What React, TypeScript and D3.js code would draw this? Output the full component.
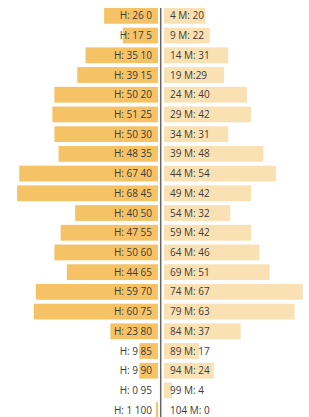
import React from 'react';
import * as d3 from 'd3';

// age group start, H (left) and M (right) counts
const ages = [0, 5, 10, 15, 20, 25, 30, 35, 40, 45, 50, 55, 60, 65, 70, 75, 80, 85, 90, 95, 100];
const hValues = [26, 17, 35, 39, 50, 51, 50, 48, 67, 68, 40, 47, 50, 44, 59, 60, 23, 9, 9, 0, 1];
const mValues = [20, 22, 31, 29, 40, 42, 31, 48, 54, 42, 32, 42, 46, 51, 67, 63, 37, 17, 24, 4, 0];
const leftLabels = ages.map((a, i) => `H: ${hValues[i]} ${a}`);
const rightLabels = ages.map((a, i) => (a === 15 ? `${a + 4} M:${mValues[i]}` : `${a + 4} M: ${mValues[i]}`));

const W = 309;
const H = 430;
const axisX = 160.7;

const App: React.FC = () => {
    const y = d3.scaleBand<number>()
        .domain(ages)
        .range([6, 420])
        .paddingInner(0.2)
        .paddingOuter(0.1);

    const x = d3.scaleLinear().domain([0, 70]).range([0, 145]);

    const leftEdge = 158;
    const rightEdge = 164;

    return (
        <div style={{ position: 'absolute', left: 0, top: 0 }}>
            <svg width={W} height={H} style={{ display: 'block' }}>
                <g fontFamily="'Open Sans', sans-serif" fontSize={10} fill="#3c3c3c">
                    {ages.map((a, i) => (
                        <g key={a}>
                            <rect
                                x={leftEdge - x(hValues[i])}
                                y={y(a)}
                                width={x(hValues[i])}
                                height={y.bandwidth()}
                                fill="#f5c366"
                            />
                            <rect
                                x={rightEdge}
                                y={y(a)}
                                width={x(mValues[i])}
                                height={y.bandwidth()}
                                fill="#f9e1b3"
                            />
                            <text
                                x={152}
                                y={(y(a) ?? 0) + y.bandwidth() / 2}
                                dy="0.35em"
                                textAnchor="end"
                            >
                                {leftLabels[i]}
                            </text>
                            <text
                                x={170}
                                y={(y(a) ?? 0) + y.bandwidth() / 2}
                                dy="0.35em"
                                textAnchor="start"
                            >
                                {rightLabels[i]}
                            </text>
                        </g>
                    ))}
                </g>
                <line x1={axisX} x2={axisX} y1={y(ages[0])} y2={H} stroke="#666" strokeWidth={1.5} />
            </svg>
        </div>
    );
};

export default App;
